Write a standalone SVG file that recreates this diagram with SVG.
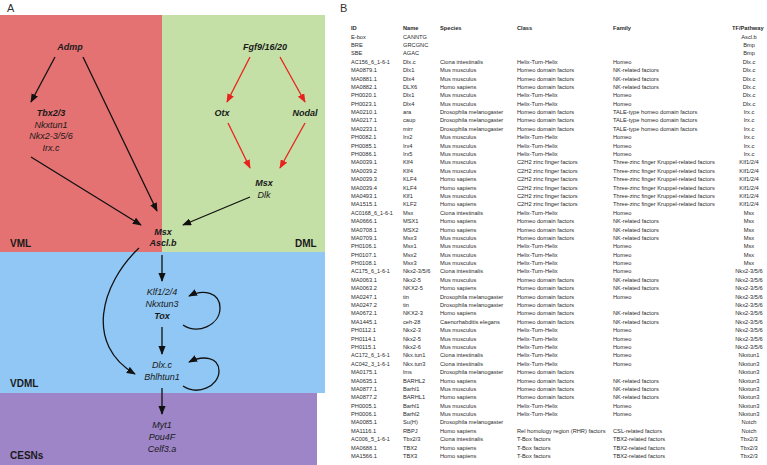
<svg xmlns="http://www.w3.org/2000/svg" width="767" height="465" viewBox="0 0 767 465">
<style>
.n{font-family:"Liberation Sans",Arial,sans-serif;font-size:9px;font-style:italic;fill:#1a1a1a;text-anchor:middle}
.b{font-weight:bold}
.reg{font-family:"Liberation Sans",Arial,sans-serif;font-size:10px;font-weight:bold;fill:#1a1a1a}
.pl{font-family:"Liberation Sans",Arial,sans-serif;font-size:11px;fill:#333}
.t text{font-family:"Liberation Sans",Arial,sans-serif;font-size:5.7px;fill:#2a2a2a}
.t text.c{text-anchor:middle}
.t .h text{font-weight:bold}
.t text.i{font-size:5.5px}
.k{fill:none;stroke:#111;stroke-width:1.3}
.r{fill:none;stroke:#e8231d;stroke-width:1.3}
</style>
<defs>
<marker id="ak" viewBox="0 0 10 8" refX="9" refY="4" markerWidth="9" markerHeight="7.2" markerUnits="userSpaceOnUse" orient="auto"><path d="M0,0 L10,4 L0,8 Z" fill="#111"/></marker>
<marker id="ar" viewBox="0 0 10 8" refX="9" refY="4" markerWidth="9" markerHeight="7.2" markerUnits="userSpaceOnUse" orient="auto"><path d="M0,0 L10,4 L0,8 Z" fill="#e8231d"/></marker>
</defs>
<rect width="767" height="465" fill="#fff"/>
<g id="regions">
<rect x="0" y="15" width="162" height="237" fill="#e57272"/>
<rect x="162" y="15" width="163" height="237" fill="#c5e0a6"/>
<rect x="0" y="252" width="325" height="141" fill="#91c7f4"/>
<rect x="0" y="393" width="317" height="72" fill="#9d85c7"/>
<text class="reg" x="10" y="247">VML</text>
<text class="reg" x="295" y="247">DML</text>
<text class="reg" x="10" y="387">VDML</text>
<text class="reg" x="10" y="459">CESNs</text>
</g>
<text class="pl" x="7" y="12">A</text>
<text class="pl" x="340" y="12">B</text>
<g id="connectors">
<path class="k" d="M55,57 L31,102" marker-end="url(#ak)"/>
<path class="k" d="M83,57 L157,211" marker-end="url(#ak)"/>
<path class="k" d="M31,157 L141,225" marker-end="url(#ak)"/>
<path class="k" d="M250,197 L183,225" marker-end="url(#ak)"/>
<path class="r" d="M250,57 L227,102" marker-end="url(#ar)"/>
<path class="r" d="M280,57 L305,102" marker-end="url(#ar)"/>
<path class="r" d="M228,123 L250,168" marker-end="url(#ar)"/>
<path class="r" d="M305,123 L280,168" marker-end="url(#ar)"/>
<path class="k" d="M162,255 L162,281" marker-end="url(#ak)"/>
<path class="k" d="M162,327 L162,354" marker-end="url(#ak)"/>
<path class="k" d="M162,388 L162,414" marker-end="url(#ak)"/>
<path class="k" d="M183,325 C198,335 220,325 220,308 C220,292 203,289 189,296" marker-end="url(#ak)"/>
<path class="k" d="M183,386 C198,396 219,386 219,371 C219,357 203,355 189,362" marker-end="url(#ak)"/>
<path class="k" d="M139,248 C100,285 85,345 135,374" marker-end="url(#ak)"/>
</g>
<g id="admp"><text class="n b" x="70" y="50">Admp</text></g>
<g id="tbx"><text class="n b" x="51" y="116">Tbx2/3</text><text class="n" x="51" y="127.5">Nkxtun1</text><text class="n" x="51" y="139">Nkx2-3/5/6</text><text class="n" x="51" y="150.5">Irx.c</text></g>
<g id="fgf"><text class="n b" x="265" y="50">Fgf9/16/20</text></g>
<g id="otx"><text class="n b" x="222" y="116">Otx</text></g>
<g id="nodal"><text class="n b" x="305" y="116">Nodal</text></g>
<g id="msxdlk"><text class="n b" x="264" y="186">Msx</text><text class="n" x="264" y="198">Dlk</text></g>
<g id="msxascl"><text class="n b" x="163" y="235">Msx</text><text class="n b" x="163" y="246">Ascl.b</text></g>
<g id="klf"><text class="n" x="162" y="295">Klf1/2/4</text><text class="n" x="162" y="307">Nkxtun3</text><text class="n b" x="162" y="318.5">Tox</text></g>
<g id="dlx"><text class="n" x="162" y="368">Dlx.c</text><text class="n" x="162" y="379.5">Bhlhtun1</text></g>
<g id="myt"><text class="n" x="162" y="428">Myt1</text><text class="n" x="162" y="440">Pou4F</text><text class="n" x="162" y="452">Celf3.a</text></g>
<g class="t" id="table" transform="translate(0,-1)">
<g class="h" transform="translate(0,31)"><text x="351">ID</text><text x="403">Name</text><text x="440">Species</text><text x="517">Class</text><text x="613">Family</text><text x="732">TF/Pathway</text></g>
<g transform="translate(0,39.5)"><text x="351">E-box</text><text x="403">CANNTG</text><text class="c" x="749">Ascl.b</text></g>
<g transform="translate(0,47.9)"><text x="351">BRE</text><text x="403">GRCGNC</text><text class="c" x="749">Bmp</text></g>
<g transform="translate(0,56.3)"><text x="351">SBE</text><text x="403">AGAC</text><text class="c" x="749">Bmp</text></g>
<g transform="translate(0,64.7)"><text class="i" x="351">AC156_6_1-6-1</text><text x="403">Dlx.c</text><text x="440">Ciona intestinalis</text><text x="517">Helix-Turn-Helix</text><text x="613">Homeo</text><text class="c" x="749">Dlx.c</text></g>
<g transform="translate(0,73.1)"><text x="351">MA0879.1</text><text x="403">Dlx1</text><text x="440">Mus musculus</text><text x="517">Homeo domain factors</text><text x="613">NK-related factors</text><text class="c" x="749">Dlx.c</text></g>
<g transform="translate(0,81.5)"><text x="351">MA0881.1</text><text x="403">Dlx4</text><text x="440">Mus musculus</text><text x="517">Homeo domain factors</text><text x="613">NK-related factors</text><text class="c" x="749">Dlx.c</text></g>
<g transform="translate(0,89.8)"><text x="351">MA0882.1</text><text x="403">DLX6</text><text x="440">Homo sapiens</text><text x="517">Homeo domain factors</text><text x="613">NK-related factors</text><text class="c" x="749">Dlx.c</text></g>
<g transform="translate(0,98.2)"><text x="351">PH0020.1</text><text x="403">Dlx1</text><text x="440">Mus musculus</text><text x="517">Helix-Turn-Helix</text><text x="613">Homeo</text><text class="c" x="749">Dlx.c</text></g>
<g transform="translate(0,106.6)"><text x="351">PH0023.1</text><text x="403">Dlx4</text><text x="440">Mus musculus</text><text x="517">Helix-Turn-Helix</text><text x="613">Homeo</text><text class="c" x="749">Dlx.c</text></g>
<g transform="translate(0,115.0)"><text x="351">MA0210.1</text><text x="403">ara</text><text x="440">Drosophila melanogaster</text><text x="517">Homeo domain factors</text><text x="613">TALE-type homeo domain factors</text><text class="c" x="749">Irx.c</text></g>
<g transform="translate(0,123.4)"><text x="351">MA0217.1</text><text x="403">caup</text><text x="440">Drosophila melanogaster</text><text x="517">Homeo domain factors</text><text x="613">TALE-type homeo domain factors</text><text class="c" x="749">Irx.c</text></g>
<g transform="translate(0,131.8)"><text x="351">MA0233.1</text><text x="403">mirr</text><text x="440">Drosophila melanogaster</text><text x="517">Homeo domain factors</text><text x="613">TALE-type homeo domain factors</text><text class="c" x="749">Irx.c</text></g>
<g transform="translate(0,140.2)"><text x="351">PH0082.1</text><text x="403">Irx2</text><text x="440">Mus musculus</text><text x="517">Helix-Turn-Helix</text><text x="613">Homeo</text><text class="c" x="749">Irx.c</text></g>
<g transform="translate(0,148.6)"><text x="351">PH0085.1</text><text x="403">Irx4</text><text x="440">Mus musculus</text><text x="517">Helix-Turn-Helix</text><text x="613">Homeo</text><text class="c" x="749">Irx.c</text></g>
<g transform="translate(0,157.0)"><text x="351">PH0086.1</text><text x="403">Irx5</text><text x="440">Mus musculus</text><text x="517">Helix-Turn-Helix</text><text x="613">Homeo</text><text class="c" x="749">Irx.c</text></g>
<g transform="translate(0,165.4)"><text x="351">MA0039.1</text><text x="403">Klf4</text><text x="440">Mus musculus</text><text x="517">C2H2 zinc finger factors</text><text x="613">Three-zinc finger Kruppel-related factors</text><text class="c" x="749">Klf1/2/4</text></g>
<g transform="translate(0,173.7)"><text x="351">MA0039.2</text><text x="403">Klf4</text><text x="440">Mus musculus</text><text x="517">C2H2 zinc finger factors</text><text x="613">Three-zinc finger Kruppel-related factors</text><text class="c" x="749">Klf1/2/4</text></g>
<g transform="translate(0,182.1)"><text x="351">MA0039.3</text><text x="403">KLF4</text><text x="440">Homo sapiens</text><text x="517">C2H2 zinc finger factors</text><text x="613">Three-zinc finger Kruppel-related factors</text><text class="c" x="749">Klf1/2/4</text></g>
<g transform="translate(0,190.5)"><text x="351">MA0039.4</text><text x="403">KLF4</text><text x="440">Homo sapiens</text><text x="517">C2H2 zinc finger factors</text><text x="613">Three-zinc finger Kruppel-related factors</text><text class="c" x="749">Klf1/2/4</text></g>
<g transform="translate(0,198.9)"><text x="351">MA0493.1</text><text x="403">Klf1</text><text x="440">Mus musculus</text><text x="517">C2H2 zinc finger factors</text><text x="613">Three-zinc finger Kruppel-related factors</text><text class="c" x="749">Klf1/2/4</text></g>
<g transform="translate(0,207.3)"><text x="351">MA1515.1</text><text x="403">KLF2</text><text x="440">Homo sapiens</text><text x="517">C2H2 zinc finger factors</text><text x="613">Three-zinc finger Kruppel-related factors</text><text class="c" x="749">Klf1/2/4</text></g>
<g transform="translate(0,215.7)"><text class="i" x="351">AC0168_6_1-6-1</text><text x="403">Msx</text><text x="440">Ciona intestinalis</text><text x="517">Helix-Turn-Helix</text><text x="613">Homeo</text><text class="c" x="749">Msx</text></g>
<g transform="translate(0,224.1)"><text x="351">MA0666.1</text><text x="403">MSX1</text><text x="440">Homo sapiens</text><text x="517">Homeo domain factors</text><text x="613">NK-related factors</text><text class="c" x="749">Msx</text></g>
<g transform="translate(0,232.5)"><text x="351">MA0708.1</text><text x="403">MSX2</text><text x="440">Homo sapiens</text><text x="517">Homeo domain factors</text><text x="613">NK-related factors</text><text class="c" x="749">Msx</text></g>
<g transform="translate(0,240.9)"><text x="351">MA0709.1</text><text x="403">Msx3</text><text x="440">Mus musculus</text><text x="517">Homeo domain factors</text><text x="613">NK-related factors</text><text class="c" x="749">Msx</text></g>
<g transform="translate(0,249.3)"><text x="351">PH0106.1</text><text x="403">Msx1</text><text x="440">Mus musculus</text><text x="517">Helix-Turn-Helix</text><text x="613">Homeo</text><text class="c" x="749">Msx</text></g>
<g transform="translate(0,257.6)"><text x="351">PH0107.1</text><text x="403">Msx2</text><text x="440">Mus musculus</text><text x="517">Helix-Turn-Helix</text><text x="613">Homeo</text><text class="c" x="749">Msx</text></g>
<g transform="translate(0,266.0)"><text x="351">PH0108.1</text><text x="403">Msx3</text><text x="440">Mus musculus</text><text x="517">Helix-Turn-Helix</text><text x="613">Homeo</text><text class="c" x="749">Msx</text></g>
<g transform="translate(0,274.4)"><text class="i" x="351">AC175_6_1-6-1</text><text x="403">Nkx2-3/5/6</text><text x="440">Ciona intestinalis</text><text x="517">Helix-Turn-Helix</text><text x="613">Homeo</text><text class="c" x="749">Nkx2-3/5/6</text></g>
<g transform="translate(0,282.8)"><text x="351">MA0063.1</text><text x="403">Nkx2-5</text><text x="440">Mus musculus</text><text x="517">Homeo domain factors</text><text x="613">NK-related factors</text><text class="c" x="749">Nkx2-3/5/6</text></g>
<g transform="translate(0,291.2)"><text x="351">MA0063.2</text><text x="403">NKX2-5</text><text x="440">Homo sapiens</text><text x="517">Homeo domain factors</text><text x="613">NK-related factors</text><text class="c" x="749">Nkx2-3/5/6</text></g>
<g transform="translate(0,299.6)"><text x="351">MA0247.1</text><text x="403">tin</text><text x="440">Drosophila melanogaster</text><text x="517">Homeo domain factors</text><text x="613">Homeo</text><text class="c" x="749">Nkx2-3/5/6</text></g>
<g transform="translate(0,308.0)"><text x="351">MA0247.2</text><text x="403">tin</text><text x="440">Drosophila melanogaster</text><text x="517">Homeo domain factors</text><text class="c" x="749">Nkx2-3/5/6</text></g>
<g transform="translate(0,316.4)"><text x="351">MA0672.1</text><text x="403">NKX2-3</text><text x="440">Homo sapiens</text><text x="517">Homeo domain factors</text><text x="613">NK-related factors</text><text class="c" x="749">Nkx2-3/5/6</text></g>
<g transform="translate(0,324.8)"><text x="351">MA1445.1</text><text x="403">ceh-28</text><text x="440">Caenorhabditis elegans</text><text x="517">Homeo domain factors</text><text x="613">NK-related factors</text><text class="c" x="749">Nkx2-3/5/6</text></g>
<g transform="translate(0,333.2)"><text x="351">PH0112.1</text><text x="403">Nkx2-3</text><text x="440">Mus musculus</text><text x="517">Helix-Turn-Helix</text><text x="613">Homeo</text><text class="c" x="749">Nkx2-3/5/6</text></g>
<g transform="translate(0,341.5)"><text x="351">PH0114.1</text><text x="403">Nkx2-5</text><text x="440">Mus musculus</text><text x="517">Helix-Turn-Helix</text><text x="613">Homeo</text><text class="c" x="749">Nkx2-3/5/6</text></g>
<g transform="translate(0,349.9)"><text x="351">PH0115.1</text><text x="403">Nkx2-6</text><text x="440">Mus musculus</text><text x="517">Helix-Turn-Helix</text><text x="613">Homeo</text><text class="c" x="749">Nkx2-3/5/6</text></g>
<g transform="translate(0,358.3)"><text class="i" x="351">AC172_6_1-6-1</text><text x="403">Nkx.tun1</text><text x="440">Ciona intestinalis</text><text x="517">Helix-Turn-Helix</text><text x="613">Homeo</text><text class="c" x="749">Nkxtun1</text></g>
<g transform="translate(0,366.7)"><text class="i" x="351">AC042_3_1-6-1</text><text x="403">Nkx.tun3</text><text x="440">Ciona intestinalis</text><text x="517">Helix-Turn-Helix</text><text x="613">Homeo</text><text class="c" x="749">Nkxtun3</text></g>
<g transform="translate(0,375.1)"><text x="351">MA0175.1</text><text x="403">lms</text><text x="440">Drosophila melanogaster</text><text x="517">Homeo domain factors</text><text class="c" x="749">Nkxtun3</text></g>
<g transform="translate(0,383.5)"><text x="351">MA0635.1</text><text x="403">BARHL2</text><text x="440">Homo sapiens</text><text x="517">Homeo domain factors</text><text x="613">NK-related factors</text><text class="c" x="749">Nkxtun3</text></g>
<g transform="translate(0,391.9)"><text x="351">MA0877.1</text><text x="403">Barhl1</text><text x="440">Mus musculus</text><text x="517">Homeo domain factors</text><text x="613">NK-related factors</text><text class="c" x="749">Nkxtun3</text></g>
<g transform="translate(0,400.3)"><text x="351">MA0877.2</text><text x="403">BARHL1</text><text x="440">Homo sapiens</text><text x="517">Homeo domain factors</text><text x="613">NK-related factors</text><text class="c" x="749">Nkxtun3</text></g>
<g transform="translate(0,408.7)"><text x="351">PH0005.1</text><text x="403">Barhl1</text><text x="440">Mus musculus</text><text x="517">Helix-Turn-Helix</text><text x="613">Homeo</text><text class="c" x="749">Nkxtun3</text></g>
<g transform="translate(0,417.1)"><text x="351">PH0006.1</text><text x="403">Barhl2</text><text x="440">Mus musculus</text><text x="517">Helix-Turn-Helix</text><text x="613">Homeo</text><text class="c" x="749">Nkxtun3</text></g>
<g transform="translate(0,425.4)"><text x="351">MA0085.1</text><text x="403">Su(H)</text><text x="440">Drosophila melanogaster</text><text class="c" x="749">Notch</text></g>
<g transform="translate(0,433.8)"><text x="351">MA1116.1</text><text x="403">RBPJ</text><text x="440">Homo sapiens</text><text x="517">Rel homology region (RHR) factors</text><text x="613">CSL-related factors</text><text class="c" x="749">Notch</text></g>
<g transform="translate(0,442.2)"><text class="i" x="351">AC006_5_1-6-1</text><text x="403">Tbx2/3</text><text x="440">Ciona intestinalis</text><text x="517">T-Box factors</text><text x="613">TBX2-related factors</text><text class="c" x="749">Tbx2/3</text></g>
<g transform="translate(0,450.6)"><text x="351">MA0688.1</text><text x="403">TBX2</text><text x="440">Homo sapiens</text><text x="517">T-Box factors</text><text x="613">TBX2-related factors</text><text class="c" x="749">Tbx2/3</text></g>
<g transform="translate(0,459.0)"><text x="351">MA1566.1</text><text x="403">TBX3</text><text x="440">Homo sapiens</text><text x="517">T-Box factors</text><text x="613">TBX2-related factors</text><text class="c" x="749">Tbx2/3</text></g>
</g>
</svg>
